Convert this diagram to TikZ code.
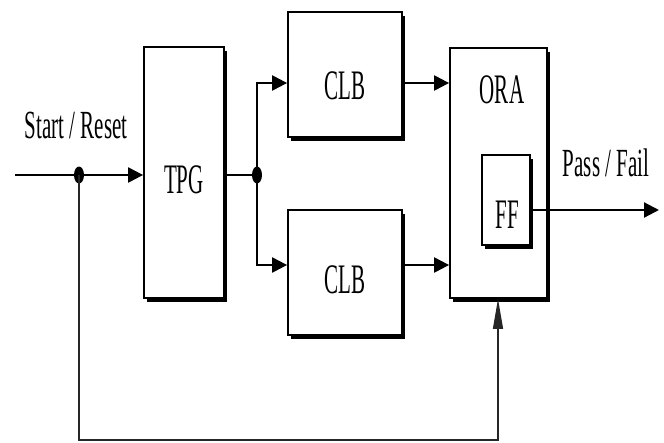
\documentclass[tikz,border=0pt]{standalone}
\usepackage{fontspec}
\setmainfont{Liberation Serif}
\usetikzlibrary{arrows.meta,shadows,shapes.geometric}
\begin{document}
\begin{tikzpicture}[x=1pt,y=-1pt,
 blk/.style={draw=black,line width=1.8pt,fill=white,rectangle,inner sep=0pt,
   drop shadow={shadow xshift=3pt,shadow yshift=-3.5pt,fill=black,opacity=1}},
 lbl/.style={font=\fontsize{21}{25}\selectfont,inner sep=0pt},
 wire/.style={line width=2.2pt},
 arr/.style={wire,-{Triangle[length=15pt,width=15pt]}},
 fb/.style={line width=1.3pt,draw=black!85},
 dotnode/.style={ellipse,fill=black,minimum width=10pt,minimum height=17pt,inner sep=0pt}]
\useasboundingbox (0,0) rectangle (664,442);
% boxes
\node[blk,minimum width=80pt,minimum height=251pt] (TPG) at (184,172.5) {};
\node[blk,minimum width=114pt,minimum height=125pt] (CLB1) at (345,74.5) {};
\node[blk,minimum width=114pt,minimum height=125pt] (CLB2) at (345,272.5) {};
\node[blk,minimum width=97pt,minimum height=250pt] (ORA) at (498.5,173) {};
\node[blk,minimum width=48pt,minimum height=90pt] (FF) at (506,200) {};
% labels
\node[lbl] (tTPG) at (184,180) {\scalebox{1}[2]{TPG}};
\node[lbl] (tCLB1) at (345,86) {\scalebox{1}[2]{CLB}};
\node[lbl] (tCLB2) at (345,280) {\scalebox{1}[2]{CLB}};
\node[lbl] (tORA) at (502,90) {\scalebox{1}[2]{ORA}};
\node[lbl] (tFF) at (507,215) {\scalebox{1}[2]{FF}};
\node[lbl] (tSR) at (76,125) {\scalebox{1}[1.9]{Start / Reset}};
\node[lbl] (tPF) at (606,163) {\scalebox{1}[1.9]{Pass / Fail}};
% coordinates
\coordinate (in) at (15,175);
\coordinate (br1) at (257,83);
\coordinate (br2) at (257,265);
\coordinate (out) at (659,210);
\coordinate (fbl) at (79,440);
\coordinate (fbr) at (498,440);
% dots
\node[dotnode] (d1) at (79,175) {};
\node[dotnode] (d2) at (257,175) {};
% wires
\draw[arr] (in) -- (TPG.west |- in);
\draw[wire] (TPG.east |- d2) -- (d2.center);
\draw[arr] (d2.center) -- (br1) -- (CLB1.west |- br1);
\draw[arr] (d2.center) -- (br2) -- (CLB2.west |- br2);
\draw[arr] (CLB1.east |- br1) -- (ORA.west |- br1);
\draw[arr] (CLB2.east |- br2) -- (ORA.west |- br2);
\draw[arr] (FF.east |- out) -- (out);
\draw[fb,-{Triangle[length=30pt,width=10pt]}] (d1.center) -- (fbl) -- (fbr) -- (ORA.south -| fbr);
\end{tikzpicture}
\end{document}
